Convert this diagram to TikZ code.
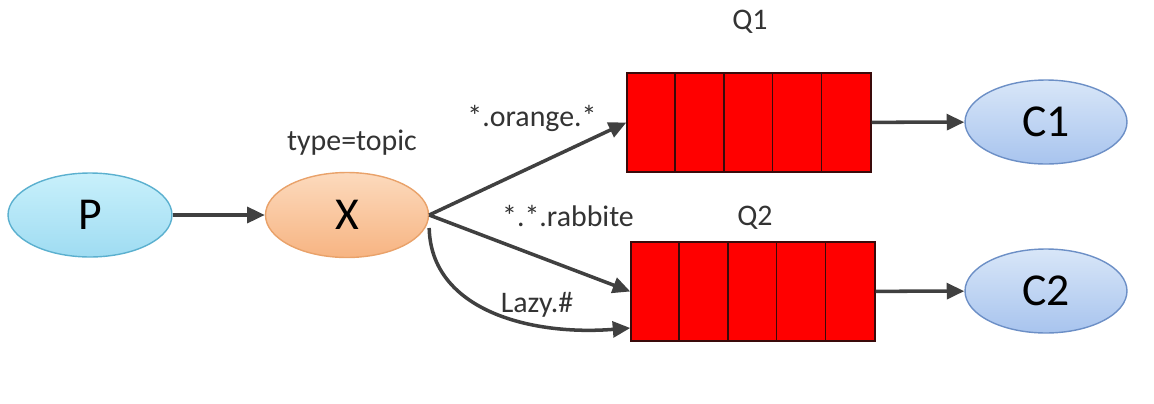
\documentclass[tikz,border=0pt]{standalone}
\usepackage{fontspec}
\setmainfont{Carlito}
\usepackage{xcolor}
\usepackage{tikz}
\usetikzlibrary{shapes.geometric,arrows.meta,positioning}
\definecolor{arrowgray}{HTML}{404040}
\definecolor{labelgray}{HTML}{333333}
\definecolor{qred}{HTML}{FF0000}
\definecolor{qedge}{HTML}{3A0A0A}
\definecolor{ptop}{HTML}{C8F0FB}
\definecolor{pbot}{HTML}{9FDCF2}
\definecolor{pedge}{HTML}{5BB0CF}
\definecolor{xtop}{HTML}{FCDABD}
\definecolor{xbot}{HTML}{F7B482}
\definecolor{xedge}{HTML}{E9A26A}
\definecolor{ctop}{HTML}{D8E6F8}
\definecolor{cbot}{HTML}{A8C4EE}
\definecolor{cedge}{HTML}{6C8FC6}
\tikzset{
    prod/.style={ellipse, draw=pedge, thick, top color=ptop, bottom color=pbot, minimum width=3.28cm, minimum height=1.68cm, font=\fontsize{26}{28}\selectfont},
    exch/.style={ellipse, draw=xedge, thick, top color=xtop, bottom color=xbot, minimum width=3.26cm, minimum height=1.7cm, font=\fontsize{26}{28}\selectfont},
    cons/.style={ellipse, draw=cedge, thick, top color=ctop, bottom color=cbot, minimum width=3.24cm, minimum height=1.68cm, font=\fontsize{26}{28}\selectfont},
    queue/.style={rectangle, draw=qedge, fill=qred, line width=0.8pt, minimum width=4.88cm, minimum height=1.98cm, inner sep=0pt},
    tag/.style={text=labelgray, font=\fontsize{17}{19}\selectfont, inner sep=1pt},
    line/.style={draw=arrowgray, line width=2pt, -{Triangle[length=10pt,width=9pt]}}
}

\begin{document}
\begin{tikzpicture}[x=0.02cm, y=-0.02cm]
    \useasboundingbox (0,0) rectangle (1154,403);
    % producer and exchange
    \node[prod] (p) at (90,215) {P};
    \node[exch] (x) at (347,215) {X};
    \node[tag] (xtype) at (352,143) {type=topic};
    % queues
    \node[queue] (q1) at (749,122.5) {};
    \node[queue] (q2) at (753,291.5) {};
    \node[tag] (q1name) at (750,22) {Q1};
    \node[tag] (q2name) at (755,218) {Q2};
    \foreach \q in {q1,q2}
        \foreach \i in {1,...,4}
            \draw[qedge, line width=0.8pt] ([xshift=\i*0.976cm]\q.north west) -- ([xshift=\i*0.976cm]\q.south west);
    % consumers
    \node[cons] (c1) at (1046,122) {C1};
    \node[cons] (c2) at (1046,291) {C2};
    % routing keys
    \node[tag] (korange) at (532,118) {*.orange.*};
    \node[tag] (krabbit) at (568,216) {*.*.rabbite};
    \node[tag] (klazy) at (537,305) {Lazy.\#};

    \draw[line] (p) -- (x);
    \draw[line] (x.east) -- (q1.west);
    \draw[line] (x.east) -- (q2.west);
    \draw[line] ([yshift=-0.26cm]x.east) .. controls (431,310) and (530,336) .. ([yshift=-0.73cm]q2.west);
    \draw[line] (q1) -- (c1);
    \draw[line] (q2) -- (c2);
\end{tikzpicture}
\end{document}
